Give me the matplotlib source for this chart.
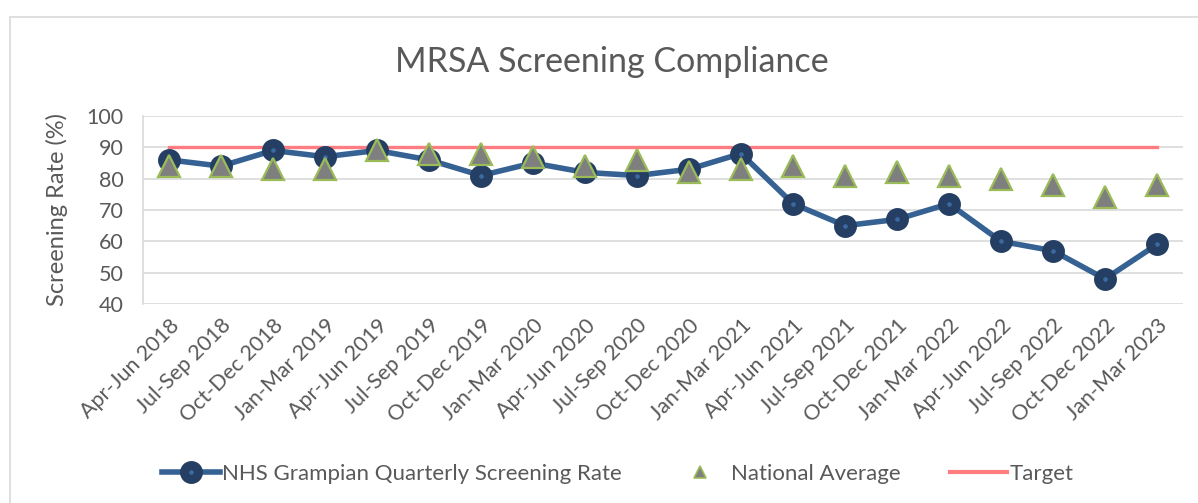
#!/usr/bin/env python3

import matplotlib
matplotlib.use('Agg')
import matplotlib.pyplot as plt
from matplotlib.patches import Rectangle
from matplotlib.lines import Line2D

quarters = [
    'Apr-Jun 2018', 'Jul-Sep 2018', 'Oct-Dec 2018', 'Jan-Mar 2019',
    'Apr-Jun 2019', 'Jul-Sep 2019', 'Oct-Dec 2019', 'Jan-Mar 2020',
    'Apr-Jun 2020', 'Jul-Sep 2020', 'Oct-Dec 2020', 'Jan-Mar 2021',
    'Apr-Jun 2021', 'Jul-Sep 2021', 'Oct-Dec 2021', 'Jan-Mar 2022',
    'Apr-Jun 2022', 'Jul-Sep 2022', 'Oct-Dec 2022', 'Jan-Mar 2023',
]
grampian = [86, 84, 89, 87, 89, 86, 81, 85, 82, 81, 83, 88,
            72, 65, 67, 72, 60, 57, 48, 59]
national = [84, 84, 83, 83, 89, 88, 88, 87, 84, 86, 82, 83,
            84, 81, 82, 81, 80, 78, 74, 78]
target = [90] * len(quarters)

grey_text = '#595959'
plt.rcParams['font.family'] = ['Lato', 'DejaVu Sans']

fig = plt.figure(figsize=(11.98, 5.03), dpi=100)
ax = fig.add_axes([143 / 1198, 1 - 304 / 503, 1040 / 1198, 188 / 503])

# outer chart border (Excel chart area)
fig.patches.append(Rectangle((10 / 1198, -0.1), 1.2, 1 - 17 / 503 + 0.1,
                             transform=fig.transFigure, fill=False,
                             edgecolor='#d9d9d9', linewidth=1.2))

x = list(range(len(quarters)))
ax.plot(x, target, color='#ff7c80', linewidth=2.4, zorder=2, label='Target')
ax.plot(x, grampian, color='#356293', linewidth=4, marker='o', markersize=10,
        markerfacecolor='#3a6aa0', markeredgecolor='#243f63',
        markeredgewidth=6.5, zorder=3,
        label='NHS Grampian Quarterly Screening Rate')
ax.plot(x, national, linestyle='none', marker='^', markersize=16,
        markerfacecolor='#7f7f7f', markeredgecolor='#9bbb59',
        markeredgewidth=1.6, zorder=4, label='National Average')

ax.set_xlim(-0.5, len(quarters) - 0.5)
ax.set_ylim(40, 100)
ax.set_yticks(range(40, 101, 10))
ax.set_xticks(x)
ax.set_xticklabels(quarters, rotation=45, ha='right', rotation_mode='anchor')
ax.tick_params(axis='both', length=0, labelsize=15.5, colors=grey_text)
ax.tick_params(axis='x', pad=8)
ax.tick_params(axis='y', pad=14)
ax.grid(axis='y', color='#d9d9d9', linewidth=1.2)
ax.set_axisbelow(True)
for s in ['top', 'right', 'bottom']:
    ax.spines[s].set_visible(False)
ax.spines['left'].set_color('#d9d9d9')
ax.spines['left'].set_linewidth(1.2)

ax.set_ylabel('Screening Rate (%)', fontsize=17, color=grey_text, labelpad=13)
fig.text(0.511, 1 - 62 / 503, 'MRSA Screening Compliance', fontsize=24.5,
         color=grey_text, ha='center', va='center')

handles = [
    Line2D([], [], color='#356293', linewidth=4, marker='o', markersize=10,
           markerfacecolor='#3a6aa0', markeredgecolor='#243f63',
           markeredgewidth=6.5),
    Line2D([], [], linestyle='none', marker='^', markersize=9,
           markerfacecolor='#7f7f7f', markeredgecolor='#9bbb59',
           markeredgewidth=1.2),
    Line2D([], [], color='#ff7c80', linewidth=3),
]
labels = ['NHS Grampian Quarterly Screening Rate', 'National Average', 'Target']
fig.legend(handles, labels, loc='center', bbox_to_anchor=(618 / 1198, 1 - 474 / 503),
           ncol=3, frameon=False, fontsize=16, labelcolor=grey_text,
           handlelength=2.6, handletextpad=0.1, columnspacing=2.2)

plt.savefig('out.png', dpi=100)
